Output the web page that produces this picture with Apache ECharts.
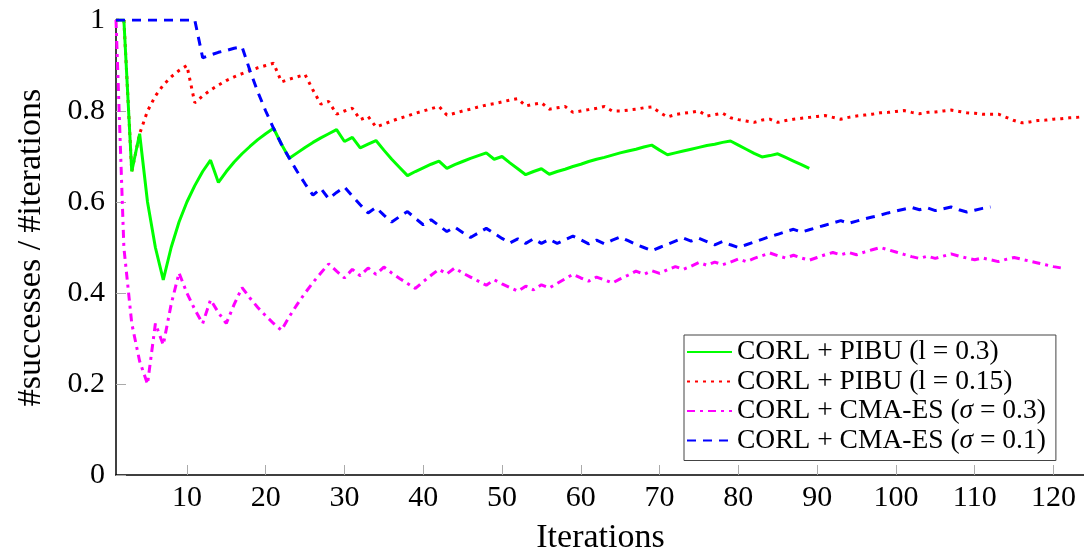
<!DOCTYPE html>
<html>
<head>
<meta charset="utf-8">
<script src="https://cdn.jsdelivr.net/npm/echarts@6/dist/echarts.min.js"></script>
<style>
html,body{margin:0;padding:0;background:#fff;}
#chart{width:1084px;height:554px;}
</style>
</head>
<body>
<div id="chart"></div>
<script>
// x ticks
var xTicks = [10, 20, 30, 40, 50, 60, 70, 80, 90, 100, 110, 120];
var seriesNames = [
  'CORL + PIBU (l = 0.3)',
  'CORL + PIBU (l = 0.15)',
  'CORL + CMA-ES (σ = 0.3)',
  'CORL + CMA-ES (σ = 0.1)'
];
// CORL + PIBU (l = 0.3), iterations 1..89
var pibu03 = [1, 1, 0.667, 0.75, 0.6, 0.5, 0.429, 0.5, 0.556, 0.6,
  0.636, 0.667, 0.692, 0.643, 0.667, 0.688, 0.706, 0.722, 0.737, 0.75,
  0.762, 0.727, 0.696, 0.708, 0.72, 0.731, 0.741, 0.75, 0.759, 0.733,
  0.742, 0.719, 0.727, 0.735, 0.714, 0.694, 0.676, 0.658, 0.667, 0.675,
  0.683, 0.69, 0.674, 0.682, 0.689, 0.696, 0.702, 0.708, 0.694, 0.7,
  0.686, 0.673, 0.66, 0.667, 0.673, 0.661, 0.667, 0.672, 0.678, 0.683,
  0.689, 0.694, 0.698, 0.703, 0.708, 0.712, 0.716, 0.721, 0.725, 0.714,
  0.704, 0.708, 0.712, 0.716, 0.72, 0.724, 0.727, 0.731, 0.734, 0.725,
  0.716, 0.707, 0.699, 0.702, 0.706, 0.698, 0.69, 0.682, 0.674];
// CORL + PIBU (l = 0.15), iterations 1..124
var pibu015 = [1, 1, 0.667, 0.75, 0.8, 0.833, 0.857, 0.875, 0.889, 0.9,
  0.818, 0.833, 0.846, 0.857, 0.867, 0.875, 0.882, 0.889, 0.895, 0.9,
  0.905, 0.864, 0.87, 0.875, 0.88, 0.846, 0.815, 0.821, 0.793, 0.8,
  0.806, 0.781, 0.788, 0.765, 0.771, 0.778, 0.784, 0.789, 0.795, 0.8,
  0.805, 0.81, 0.791, 0.795, 0.8, 0.804, 0.809, 0.813, 0.816, 0.82,
  0.824, 0.827, 0.811, 0.815, 0.818, 0.804, 0.807, 0.81, 0.797, 0.8,
  0.803, 0.806, 0.81, 0.8, 0.8, 0.802, 0.804, 0.807, 0.809, 0.797,
  0.787, 0.792, 0.795, 0.797, 0.8, 0.789, 0.792, 0.795, 0.785, 0.781,
  0.778, 0.775, 0.78, 0.782, 0.775, 0.779, 0.782, 0.784, 0.786, 0.788,
  0.79, 0.786, 0.782, 0.786, 0.789, 0.791, 0.793, 0.796, 0.797, 0.799,
  0.801, 0.797, 0.794, 0.797, 0.798, 0.8, 0.802, 0.799, 0.796, 0.795,
  0.793, 0.793, 0.793, 0.786, 0.779, 0.774, 0.776, 0.779, 0.78, 0.782,
  0.783, 0.785, 0.786, 0.788];
// CORL + CMA-ES (sigma = 0.3), iterations 1..121
var cma03 = [1, 0.5, 0.333, 0.25, 0.2, 0.333, 0.286, 0.375, 0.444, 0.4,
  0.364, 0.333, 0.385, 0.357, 0.333, 0.375, 0.412, 0.389, 0.368, 0.35,
  0.333, 0.318, 0.348, 0.375, 0.4, 0.423, 0.444, 0.464, 0.448, 0.433,
  0.452, 0.438, 0.455, 0.441, 0.457, 0.444, 0.432, 0.421, 0.41, 0.425,
  0.439, 0.452, 0.442, 0.455, 0.444, 0.435, 0.426, 0.417, 0.429, 0.42,
  0.412, 0.404, 0.415, 0.407, 0.418, 0.411, 0.421, 0.431, 0.441, 0.433,
  0.426, 0.435, 0.429, 0.422, 0.431, 0.439, 0.448, 0.441, 0.449, 0.443,
  0.451, 0.458, 0.452, 0.459, 0.467, 0.461, 0.468, 0.462, 0.468, 0.475,
  0.469, 0.476, 0.482, 0.488, 0.482, 0.477, 0.483, 0.477, 0.472, 0.478,
  0.484, 0.489, 0.484, 0.489, 0.484, 0.49, 0.495, 0.5, 0.495, 0.49,
  0.485, 0.48, 0.476, 0.481, 0.476, 0.481, 0.486, 0.481, 0.477, 0.473,
  0.477, 0.473, 0.469, 0.474, 0.478, 0.474, 0.47, 0.466, 0.462, 0.458,
  0.455];
// CORL + CMA-ES (sigma = 0.1), iterations 1..112
var cma01 = [1, 1, 1, 1, 1, 1, 1, 1, 1, 1,
  1, 0.917, 0.923, 0.929, 0.933, 0.938, 0.941, 0.889, 0.842, 0.8,
  0.762, 0.727, 0.696, 0.667, 0.64, 0.615, 0.63, 0.607, 0.621, 0.633,
  0.613, 0.594, 0.576, 0.588, 0.571, 0.556, 0.568, 0.579, 0.564, 0.55,
  0.561, 0.548, 0.535, 0.545, 0.533, 0.522, 0.532, 0.542, 0.531, 0.52,
  0.51, 0.519, 0.509, 0.519, 0.509, 0.518, 0.509, 0.517, 0.525, 0.517,
  0.508, 0.516, 0.508, 0.516, 0.523, 0.515, 0.507, 0.5, 0.493, 0.5,
  0.507, 0.514, 0.521, 0.514, 0.52, 0.513, 0.506, 0.513, 0.506, 0.5,
  0.506, 0.512, 0.518, 0.524, 0.529, 0.535, 0.54, 0.534, 0.539, 0.544,
  0.549, 0.554, 0.559, 0.553, 0.558, 0.563, 0.567, 0.571, 0.576, 0.58,
  0.584, 0.588, 0.583, 0.587, 0.581, 0.585, 0.589, 0.583, 0.578, 0.582,
  0.586, 0.589];

function pairs(arr) {
  return arr.map(function (v, i) { return [i + 1, v]; });
}

var FONT = "'Liberation Serif', 'DejaVu Serif', serif";
var chart = echarts.init(document.getElementById('chart'), null, {renderer: 'canvas'});

var legendRich = {
  t: {fontFamily: FONT, fontSize: 27.5, color: '#000'},
  i: {fontFamily: FONT, fontSize: 27.5, fontStyle: 'italic', color: '#000'}
};

chart.setOption({
  animation: false,
  backgroundColor: '#fff',
  grid: {left: 116, top: 20, right: -1, bottom: 79, containLabel: false, outerBoundsMode: 'none'},
  legend: {
    orient: 'vertical',
    left: 684,
    top: 335,
    itemWidth: 45,
    itemHeight: 12,
    itemGap: 1.5,
    padding: [3, 10, 6, 2],
    borderColor: '#444',
    borderWidth: 1,
    backgroundColor: '#fff',
    itemStyle: {opacity: 0},
    data: seriesNames,
    formatter: function (name) {
      var m = name.match(/^(.*\()σ(.*)$/);
      if (m) return '{t|' + m[1] + '}{i|σ}{t|' + m[2] + '}';
      return '{t|' + name + '}';
    },
    textStyle: {fontFamily: FONT, fontSize: 27.5, color: '#000', rich: legendRich}
  },
  xAxis: {
    type: 'value',
    min: 1,
    max: 124,
    name: 'Iterations',
    nameLocation: 'middle',
    nameGap: 46,
    nameTextStyle: {fontFamily: FONT, fontSize: 34, color: '#000'},
    axisLine: {show: true, onZero: false, lineStyle: {color: '#000', width: 1.5}},
    axisTick: {show: true, inside: true, length: 10, customValues: xTicks, lineStyle: {color: '#aaa', width: 1}},
    axisLabel: {customValues: xTicks, fontFamily: FONT, fontSize: 30, color: '#000', margin: 8},
    splitLine: {show: false}
  },
  yAxis: {
    type: 'value',
    min: 0,
    max: 1,
    interval: 0.2,
    name: '#successes / #iterations',
    nameLocation: 'middle',
    nameGap: 68,
    nameTextStyle: {fontFamily: FONT, fontSize: 34, color: '#000'},
    axisLine: {show: true, onZero: false, lineStyle: {color: '#000', width: 1.5}},
    axisTick: {show: true, inside: true, length: 10, lineStyle: {color: '#aaa', width: 1}},
    axisLabel: {fontFamily: FONT, fontSize: 30, color: '#000', margin: 11},
    splitLine: {show: false}
  },
  series: [
    {name: seriesNames[0], type: 'line', data: pairs(pibu03), symbol: 'none',
      lineStyle: {color: '#00ff00', width: 3, type: 'solid'}, itemStyle: {color: '#00ff00'}, z: 4},
    {name: seriesNames[1], type: 'line', data: pairs(pibu015), symbol: 'none',
      lineStyle: {color: '#ff0000', width: 3, type: [3, 5], cap: 'butt'}, itemStyle: {color: '#ff0000'}, z: 3},
    {name: seriesNames[2], type: 'line', data: pairs(cma03), symbol: 'none',
      lineStyle: {color: '#ff00ff', width: 3, type: [8, 5, 3, 5], cap: 'butt'}, itemStyle: {color: '#ff00ff'}, z: 2},
    {name: seriesNames[3], type: 'line', data: pairs(cma01), symbol: 'none',
      lineStyle: {color: '#0000ff', width: 3, type: [9, 7], cap: 'butt'}, itemStyle: {color: '#0000ff'}, z: 5}
  ]
});
</script>
</body>
</html>
